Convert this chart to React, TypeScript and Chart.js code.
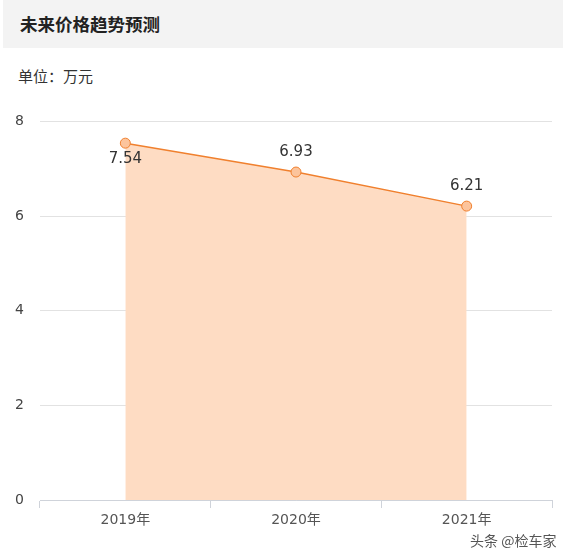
import { useEffect, useRef } from "react";
import Chart from "chart.js/auto";

const years = ["2019年", "2020年", "2021年"];
const prices = [7.54, 6.93, 6.21];
const labelSide = ["below", "above", "above"];

const font = '"DejaVu Sans", "Noto Sans CJK SC", sans-serif';
const cjk = '"Noto Sans CJK SC", "Microsoft YaHei", sans-serif';

const valueLabels = {
  id: "valueLabels",
  afterDatasetsDraw(chart: Chart) {
    const { ctx } = chart;
    const meta = chart.getDatasetMeta(0);
    ctx.save();
    ctx.font = `15px ${font}`;
    ctx.fillStyle = "#333";
    ctx.textAlign = "center";
    ctx.textBaseline = "middle";
    meta.data.forEach((pt, i) => {
      const dy = labelSide[i] === "below" ? 16 : -20;
      ctx.fillText(prices[i].toFixed(2), pt.x, pt.y + dy);
    });
    ctx.restore();
  },
};

export default function App() {
  const ref = useRef<HTMLCanvasElement>(null);
  const chart = useRef<Chart | null>(null);

  useEffect(() => {
    if (!ref.current) return;
    chart.current?.destroy();

    chart.current = new Chart(ref.current, {
      type: "line",
      data: {
        labels: years,
        datasets: [{
          data: prices,
          borderColor: "#f0802e",
          borderWidth: 1.5,
          backgroundColor: "#fedcc3",
          fill: "origin",
          tension: 0,
          pointRadius: 5,
          pointBackgroundColor: "#fcc49c",
          pointBorderColor: "#f0802e",
          pointBorderWidth: 1,
        }],
      },
      options: {
        responsive: false,
        animation: false,
        layout: { padding: { top: 12, right: 20, left: 2, bottom: 0 } },
        plugins: {
          legend: { display: false },
          tooltip: { enabled: false },
        },
        scales: {
          x: {
            offset: true,
            grid: {
              offset: true,
              drawOnChartArea: false,
              drawTicks: true,
              tickLength: 8,
              color: "#cfd3da",
            },
            border: { color: "#cfd3da", width: 1 },
            ticks: { color: "#555", font: { size: 14, family: font }, padding: 4 },
            afterFit: (s: any) => { s.height = 40; },
          },
          y: {
            min: 0,
            max: 8,
            ticks: { stepSize: 2, color: "#444", font: { size: 14, family: font }, padding: 16 },
            grid: { color: "#e2e2e2", drawTicks: false },
            border: { display: false },
            afterFit: (s: any) => { s.width = 38; },
          },
        },
      },
      plugins: [valueLabels],
    });

    return () => chart.current?.destroy();
  }, []);

  return (
    <div style={{ position: "fixed", left: 0, top: 0, width: 572, height: 559, background: "#fff", fontFamily: cjk }}>
      <div style={{ position: "absolute", left: 3, top: 0, width: 560, height: 48, background: "#f3f3f3" }}>
        <div style={{ position: "absolute", left: 17, top: 12, fontSize: 17.5, fontWeight: 700, color: "#222", lineHeight: "24px" }}>
          未来价格趋势预测
        </div>
      </div>
      <div style={{ position: "absolute", left: 18, top: 66, fontSize: 15, color: "#333", lineHeight: "20px" }}>
        单位：万元
      </div>
      <canvas ref={ref} width={572} height={443} style={{ position: "absolute", left: 0, top: 97 }} />
      <div style={{ position: "absolute", left: 470, top: 530, fontSize: 14, color: "#555", lineHeight: "20px" }}>
        头条 @检车家
      </div>
    </div>
  );
}
